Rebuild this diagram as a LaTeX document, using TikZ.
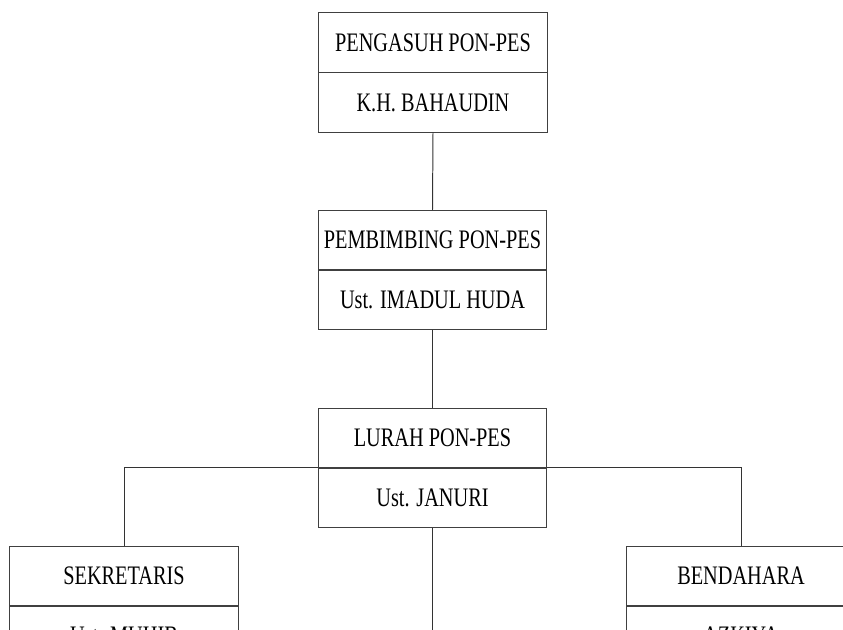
\documentclass[tikz,border=0pt]{standalone}
\usepackage{fontspec}
\setmainfont[FakeStretch=0.76]{Liberation Serif}
\usepackage{tikz}
\usetikzlibrary{positioning}

\tikzset{
  jabatan/.style={draw=black!75,line width=0.7pt,minimum width=5.7cm,minimum height=1.475cm,
    inner sep=0pt,font=\fontsize{19}{22}\selectfont},
  garis/.style={draw=black!80,line width=0.7pt}
}

\begin{document}
\begin{tikzpicture}[x=0.025cm,y=-0.025cm]
\useasboundingbox (0,0) rectangle (843,630);
\clip (0,0) rectangle (843,630);
% pengasuh
\node[jabatan] (pengasuh) at (433,42.5) {PENGASUH PON-PES};
\node[jabatan,below=0pt of pengasuh] (pengasuhNama) {K.H. BAHAUDIN};
% pembimbing
\node[jabatan] (pembimbing) at (432.5,240) {PEMBIMBING PON-PES};
\node[jabatan,below=0pt of pembimbing] (pembimbingNama) {Ust. IMADUL HUDA};
% lurah
\node[jabatan] (lurah) at (432.5,437.5) {LURAH PON-PES};
\node[jabatan,below=0pt of lurah] (lurahNama) {Ust. JANURI};
% sekretaris
\node[jabatan] (sekretaris) at (124,575.5) {SEKRETARIS};
\node[jabatan,below=0pt of sekretaris] (sekretarisNama) {Ust. MUHIB};
% bendahara
\node[jabatan] (bendahara) at (741,575.5) {BENDAHARA};
\node[jabatan,below=0pt of bendahara] (bendaharaNama) {AZKIYA};
\coordinate (bawah) at (432.5,660);
% garis
\draw[garis] (pengasuhNama.south) -- (pembimbing.north);
\draw[garis] (pembimbingNama.south) -- (lurah.north);
\draw[garis] (sekretaris.north) |- (lurahNama.north west);
\draw[garis] (lurahNama.north east) -| (bendahara.north);
\draw[garis] (lurahNama.south) -- (bawah);
\end{tikzpicture}
\end{document}
